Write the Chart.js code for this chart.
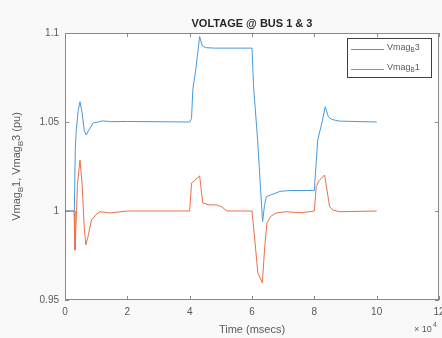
<!DOCTYPE html>
<html>
<head>
<meta charset="utf-8">
<script src="https://cdn.jsdelivr.net/npm/chart.js@4/dist/chart.umd.min.js"></script>
<style>
  html, body { margin: 0; padding: 0; background: #f9f9f9; }
  #wrap { width: 442px; height: 338px; }
</style>
</head>
<body>
<div id="wrap"><canvas id="VOLTCHART" width="442" height="338"></canvas></div>
<script>
// time in msecs, values in pu
var timeB3 = [0, 3000, 3300, 3600, 4200, 4800, 5500, 6200, 6800, 7500, 9000, 12000, 15000, 20000,
    40000, 40600, 41000, 42000, 43200, 44000, 45000, 48000, 60000, 60500, 61800, 63000, 63400,
    64000, 64600, 66000, 69000, 72000, 80000, 80500, 81100, 82500, 83500, 84500, 85500, 88000, 100000];
var vmagB3 = [1.0, 1.0, 1.035, 1.045, 1.056, 1.0614, 1.055, 1.045, 1.0427, 1.045, 1.0494, 1.0506, 1.0502, 1.0503,
    1.05, 1.052, 1.068, 1.08, 1.098, 1.093, 1.0918, 1.0915, 1.0915, 1.07, 1.04, 1.005, 0.994,
    1.003, 1.008, 1.009, 1.011, 1.0115, 1.0115, 1.025, 1.04, 1.05, 1.0586, 1.053, 1.0515, 1.0505, 1.05];

var timeB1 = [0, 2900, 3200, 3500, 4000, 4800, 5500, 6200, 6700, 7300, 8500, 10000, 11200, 14400, 20000,
    40000, 40600, 41500, 43200, 44200, 46000, 48600, 50200, 52000, 60000, 60900, 61900, 63300,
    64100, 64800, 66000, 67800, 71000, 76000, 80000, 80600, 81500, 83300, 84900, 86000, 88100, 100000];
var vmagB1 = [1.0, 1.0, 0.978, 0.99, 1.015, 1.0287, 1.015, 0.99, 0.981, 0.985, 0.995, 0.998, 0.9996, 0.9989, 1.0,
    1.0, 1.0157, 1.017, 1.0197, 1.0045, 1.0035, 1.0034, 1.0024, 1.0, 1.0, 0.9837, 0.965, 0.9597,
    0.98, 0.9933, 0.997, 0.9989, 0.9996, 0.999, 1.0, 1.0137, 1.017, 1.0202, 1.0024, 1.0005, 0.9996, 1.0];

var xTicks = [0, 20000, 40000, 60000, 80000, 100000, 120000];
var yTicks = [0.95, 1, 1.05, 1.1];
var yTickLabels = ['0.95', '1', '1.05', '1.1'];

var blue = 'rgb(70,155,222)';
var red = 'rgb(236,112,72)';
var axisGrey = '#8a8a8a';
var textGrey = '#5a5a5a';

function pairs(xs, ys) {
    return xs.map((x, i) => ({ x: x, y: ys[i] }));
}

// draws text with a lowered small "B" where the label has _B
function drawSub(ctx, parts, x, y, size) {
    parts.forEach(p => {
        if (p.sub) {
            ctx.font = (size * 0.7) + 'px "Liberation Sans", Arial, sans-serif';
            ctx.fillText(p.t, x, y + size * 0.3);
        } else {
            ctx.font = size + 'px "Liberation Sans", Arial, sans-serif';
            ctx.fillText(p.t, x, y);
        }
        x += ctx.measureText(p.t).width;
    });
    return x;
}
function subWidth(ctx, parts, size) {
    var w = 0;
    parts.forEach(p => {
        ctx.font = (p.sub ? size * 0.7 : size) + 'px "Liberation Sans", Arial, sans-serif';
        w += ctx.measureText(p.t).width;
    });
    return w;
}

var matlabLook = {
    id: 'matlabLook',
    beforeDraw(chart) {
        var ctx = chart.ctx, a = chart.chartArea;
        ctx.save();
        ctx.fillStyle = '#f9f9f9';
        ctx.fillRect(0, 0, chart.width, chart.height);
        ctx.fillStyle = '#ffffff';
        ctx.fillRect(a.left, a.top, a.right - a.left, a.bottom - a.top);
        ctx.restore();
    },
    afterDraw(chart) {
        var ctx = chart.ctx, a = chart.chartArea;
        var xs = chart.scales.x, ys = chart.scales.y;
        ctx.save();
        // box
        ctx.strokeStyle = axisGrey;
        ctx.lineWidth = 1;
        ctx.strokeRect(a.left + 0.5, a.top + 0.5, a.right - a.left - 1, a.bottom - a.top - 1);
        // inward ticks
        ctx.beginPath();
        xTicks.forEach(v => {
            var px = Math.round(xs.getPixelForValue(v)) + 0.5;
            ctx.moveTo(px, a.bottom); ctx.lineTo(px, a.bottom - 4);
            ctx.moveTo(px, a.top); ctx.lineTo(px, a.top + 4);
        });
        yTicks.forEach(v => {
            var py = Math.round(ys.getPixelForValue(v)) + 0.5;
            ctx.moveTo(a.left, py); ctx.lineTo(a.left + 4, py);
            ctx.moveTo(a.right, py); ctx.lineTo(a.right - 4, py);
        });
        ctx.stroke();

        // tick labels
        ctx.fillStyle = textGrey;
        ctx.font = '10px "Liberation Sans", Arial, sans-serif';
        ctx.textAlign = 'center';
        ctx.textBaseline = 'top';
        xTicks.forEach(v => {
            ctx.fillText(String(v / 10000), xs.getPixelForValue(v), a.bottom + 7);
        });
        ctx.textAlign = 'right';
        ctx.textBaseline = 'middle';
        yTicks.forEach((v, i) => {
            ctx.fillText(yTickLabels[i], a.left - 6, ys.getPixelForValue(v));
        });

        // exponent
        ctx.textAlign = 'left';
        ctx.textBaseline = 'alphabetic';
        ctx.font = '9px "Liberation Sans", Arial, sans-serif';
        ctx.fillText('\u00d7 10', 414, 332);
        ctx.font = '7px "Liberation Sans", Arial, sans-serif';
        ctx.fillText('4', 433, 327);

        // title
        ctx.fillStyle = '#262626';
        ctx.textAlign = 'center';
        ctx.font = 'bold 11px "Liberation Sans", Arial, sans-serif';
        ctx.fillText('VOLTAGE @ BUS 1 & 3', (a.left + a.right) / 2, 27);

        // x title
        ctx.fillStyle = textGrey;
        ctx.font = '11px "Liberation Sans", Arial, sans-serif';
        ctx.fillText('Time (msecs)', (a.left + a.right) / 2, 333);

        // y title (rotated, with subscripts)
        var yParts = [{ t: 'Vmag' }, { t: 'B', sub: true }, { t: '1, Vmag' }, { t: 'B', sub: true }, { t: '3 (pu)' }];
        ctx.translate(20, (a.top + a.bottom) / 2);
        ctx.rotate(-Math.PI / 2);
        ctx.textAlign = 'left';
        var w = subWidth(ctx, yParts, 11);
        drawSub(ctx, yParts, -w / 2, 0, 11);
        ctx.setTransform(1, 0, 0, 1, 0, 0);

        // legend
        var lx = 347, ly = 38, lw = 84, lh = 39;
        ctx.fillStyle = '#ffffff';
        ctx.fillRect(lx, ly, lw, lh);
        ctx.strokeStyle = '#404040';
        ctx.strokeRect(lx + 0.5, ly + 0.5, lw, lh);
        var items = [
            { c: blue, parts: [{ t: 'Vmag' }, { t: 'B', sub: true }, { t: '3' }], y: 49 },
            { c: red, parts: [{ t: 'Vmag' }, { t: 'B', sub: true }, { t: '1' }], y: 69 }
        ];
        items.forEach(it => {
            ctx.strokeStyle = it.c;
            ctx.beginPath();
            ctx.moveTo(351, it.y + 0.5); ctx.lineTo(384, it.y + 0.5);
            ctx.stroke();
            ctx.fillStyle = textGrey;
            ctx.textBaseline = 'middle';
            drawSub(ctx, it.parts, 387, it.y - 1, 9);
        });
        ctx.restore();
    }
};

var ctx = document.getElementById('VOLTCHART').getContext('2d');
var myChart = new Chart(ctx, {
    type: 'line',
    data: {
        datasets: [{
            label: 'Vmag_B3',
            data: pairs(timeB3, vmagB3),
            borderColor: blue,
            borderWidth: 1,
            pointRadius: 0,
            tension: 0,
            fill: false
        }, {
            label: 'Vmag_B1',
            data: pairs(timeB1, vmagB1),
            borderColor: red,
            borderWidth: 1,
            pointRadius: 0,
            tension: 0,
            fill: false
        }]
    },
    options: {
        responsive: false,
        animation: false,
        layout: { padding: { left: 0, right: 3, top: 33, bottom: 0 } },
        scales: {
            x: {
                type: 'linear',
                min: 0,
                max: 120000,
                grid: { display: false },
                border: { display: false },
                ticks: { display: false },
                afterFit: scale => { scale.height = 38; }
            },
            y: {
                min: 0.95,
                max: 1.1,
                grid: { display: false },
                border: { display: false },
                ticks: { display: false },
                afterFit: scale => { scale.width = 65; }
            }
        },
        plugins: {
            legend: { display: false },
            tooltip: { enabled: false }
        }
    },
    plugins: [matlabLook]
});
</script>
</body>
</html>
